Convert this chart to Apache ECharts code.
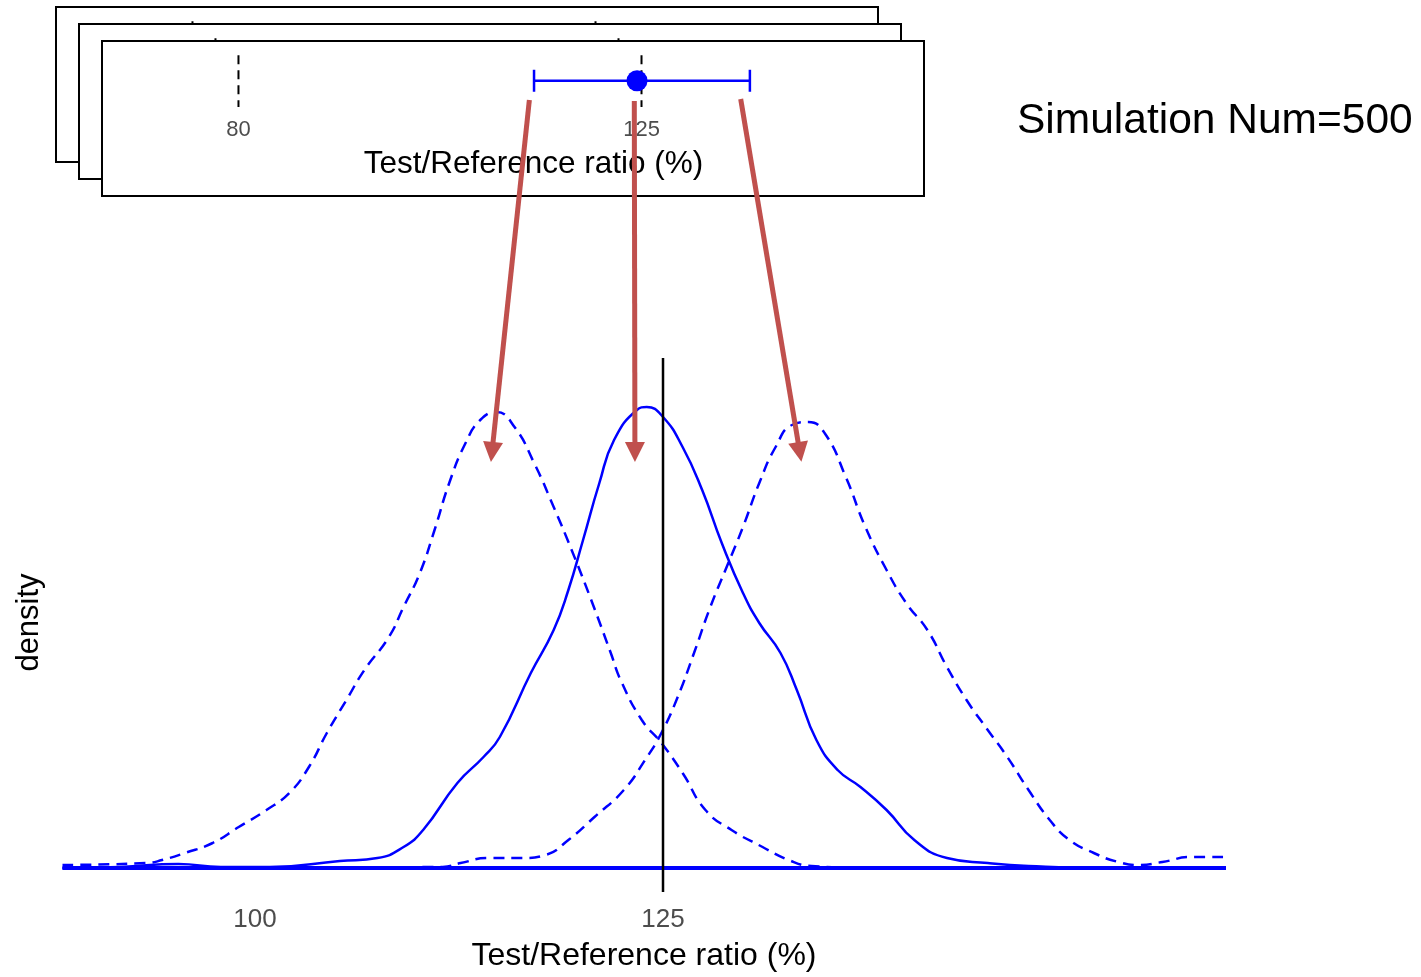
<!DOCTYPE html>
<html>
<head>
<meta charset="utf-8">
<script src="https://cdn.jsdelivr.net/npm/echarts@6/dist/echarts.min.js"></script>
<style>
  html, body { margin: 0; padding: 0; background: #fff; }
  #chart { width: 1421px; height: 977px; }
</style>
</head>
<body>
<div id="chart"></div>
<script>
// Kernel density of the simulated Test/Reference ratio (%), observed scenario
const observedRatio = [88.2, 91.7, 95.3, 97.9, 100.9, 105.2, 107.5, 109.1, 110.3, 112.4, 114.0, 115.0,
  116.9, 118.3, 119.2, 120.1, 121.1, 122.0, 123.4, 124.0, 125.0, 126.2, 127.4, 128.6, 129.9, 130.9,
  132.2, 133.2, 134.4, 135.7, 137.1, 138.7, 140.4, 142.4, 144.9, 147.4, 151.8, 159.5];
const observedDensity = [0, 0.0001, 0.0004, 0.0001, 0.0001, 0.0007, 0.0010, 0.0021, 0.0038, 0.0085, 0.0111, 0.0131,
  0.0195, 0.0238, 0.0278, 0.0328, 0.0385, 0.0428, 0.0458, 0.0461, 0.0451, 0.0421, 0.0378, 0.0325, 0.0275, 0.0245,
  0.0215, 0.0178, 0.0128, 0.0098, 0.0081, 0.0058, 0.0028, 0.0010, 0.0005, 0.0002, 0, 0];

// Density when the ratio is shifted toward the lower interval bound
const lowerRatio = [88.2, 93.4, 94.3, 95.7, 97.4, 99.0, 100.7, 102.1, 103.3, 104.4, 105.6, 106.7, 108.2, 109.1,
  110.1, 111.0, 111.9, 112.9, 113.8, 114.8, 115.9, 117.1, 118.3, 119.4, 120.6, 121.8, 122.4, 123.7, 124.9,
  126.2, 127.6, 129.2, 131.1, 132.7, 134.1, 138.0, 159.5];
const lowerDensity = [0.0003, 0.0005, 0.0008, 0.0015, 0.0025, 0.0041, 0.0058, 0.0075, 0.0101, 0.0135, 0.0168, 0.0198, 0.0231, 0.0261,
  0.0295, 0.0338, 0.0385, 0.0425, 0.0448, 0.0456, 0.0441, 0.0405, 0.0361, 0.0318, 0.0268, 0.0215, 0.0188, 0.0148, 0.0125,
  0.0095, 0.0058, 0.0038, 0.0021, 0.0008, 0.0002, 0, 0];

// Density when the ratio is shifted toward the upper interval bound
const upperRatio = [88.2, 111.5, 112.6, 114.3, 116.4, 117.8, 119.2, 120.8, 122.6, 123.9, 124.9, 125.9, 126.9, 127.9,
  128.9, 129.9, 130.9, 131.9, 132.9, 133.9, 134.9, 136.2, 137.4, 138.7, 139.9, 141.2, 142.4, 143.6, 144.9,
  146.1, 147.4, 148.7, 149.9, 151.4, 152.9, 154.2, 155.6, 157.4, 159.5];
const upperDensity = [0, 0.0001, 0.0005, 0.0010, 0.0010, 0.0013, 0.0028, 0.0051, 0.0078, 0.0108, 0.0135, 0.0171, 0.0215, 0.0261,
  0.0301, 0.0341, 0.0385, 0.0421, 0.0443, 0.0446, 0.0435, 0.0391, 0.0341, 0.0298, 0.0265, 0.0238, 0.0201, 0.0168, 0.0138,
  0.0111, 0.0078, 0.0048, 0.0028, 0.0015, 0.0006, 0.0003, 0.0006, 0.0011, 0.0011];

const criterion = 125;           // upper equivalence limit, drawn as a vertical rule
const mainTicks = [100, 125];

// One simulated 90% interval in the forest-style panel
const ciLower = 113.0;
const ciUpper = 137.1;
const pointEstimate = 124.5;
const limitTicks = [80, 125];    // equivalence limits
const simulationCount = 500;

// Arrows from the interval to the matching density (main-plot coordinates)
const arrowTails = [[116.81, 0.0768], [123.24, 0.0767], [129.76, 0.0769]];
const arrowHeads = [[114.52, 0.0416], [123.28, 0.0416], [133.38, 0.0416]];

// ---------------------------------------------------------------------
const FONT = '"Liberation Sans", Arial, Helvetica, sans-serif';
const BLUE = '#0000ff';
const ARROW = '#c0504d';
const zip = (xs, ys) => xs.map((x, i) => [x, ys[i]]);

// stacked panels, back to front
const panelOffsets = [[-46, -34], [-23, -17], [0, 0]];
const BOX = { left: 102, top: 41, width: 822, height: 155 };
const PANEL_GRID = { left: 143, top: 41, width: 781, height: 71 };
const PANEL_X = [69.34, 156.54];
const REF_SPAN = [0.8, 0.07];   // drawn top to bottom
const CI_ROW = 0.44;

const chart = echarts.init(document.getElementById('chart'), null, { renderer: 'canvas' });

const grids = [{ left: 62, width: 1164, top: 345, height: 555 }];
const xAxes = [{
  type: 'value', gridIndex: 0, min: 88.17, max: 159.5,
  axisLine: { show: false }, axisTick: { show: false }, splitLine: { show: false },
  axisLabel: { customValues: mainTicks, fontSize: 26, color: '#4d4d4d', margin: 7, fontFamily: FONT },
  name: 'Test/Reference ratio (%)', nameLocation: 'middle', nameGap: 40,
  nameTextStyle: { fontSize: 32, color: '#000', fontFamily: FONT }
}];
const yAxes = [{
  type: 'value', gridIndex: 0, min: -0.0032, max: 0.0523,
  axisLine: { show: false }, axisTick: { show: false }, splitLine: { show: false },
  axisLabel: { show: false },
  name: 'density', nameLocation: 'middle', nameRotate: 90, nameGap: 17,
  nameTextStyle: { fontSize: 31, color: '#000', fontFamily: FONT }
}];

const curveStyle = (dashed) => ({ color: BLUE, width: 2.5, type: dashed ? [11, 7] : 'solid' });
const densityLine = (name, xs, ys, dashed) => ({
  type: 'line', name, xAxisIndex: 0, yAxisIndex: 0, z: 3,
  data: zip(xs, ys), smooth: 0.5,
  showSymbol: false, lineStyle: curveStyle(dashed)
});
const series = [
  {
    type: 'line', name: 'baseline', xAxisIndex: 0, yAxisIndex: 0, z: 2,
    data: [[observedRatio[0], 0], [observedRatio[observedRatio.length - 1], 0]],
    showSymbol: false, lineStyle: { color: BLUE, width: 4 }, silent: true
  },
  densityLine('lower', lowerRatio, lowerDensity, true),
  densityLine('upper', upperRatio, upperDensity, true),
  densityLine('observed', observedRatio, observedDensity, false),
  {
    type: 'line', name: 'criterion', xAxisIndex: 0, yAxisIndex: 0, z: 4,
    data: [[criterion, -0.0024], [criterion, 0.051]],
    showSymbol: false, lineStyle: { color: '#000', width: 2.5 }
  }
];

const graphics = [];
panelOffsets.forEach(([dx, dy], i) => {
  const idx = i + 1;
  const front = i === panelOffsets.length - 1;
  const zBase = 10 * (i + 1);
  graphics.push({
    type: 'rect', z: zBase,
    shape: { x: BOX.left + dx, y: BOX.top + dy, width: BOX.width, height: BOX.height },
    style: { fill: '#fff', stroke: '#000', lineWidth: 2 }
  });
  grids.push({
    left: PANEL_GRID.left + dx, top: PANEL_GRID.top + dy,
    width: PANEL_GRID.width, height: PANEL_GRID.height
  });
  xAxes.push({
    type: 'value', gridIndex: idx, min: PANEL_X[0], max: PANEL_X[1], z: zBase + 5,
    axisLine: { show: false }, axisTick: { show: false }, splitLine: { show: false },
    axisLabel: front
      ? { customValues: limitTicks, fontSize: 22, color: '#4d4d4d', margin: 7, fontFamily: FONT }
      : { show: false },
    name: front ? 'Test/Reference ratio (%)' : '',
    nameLocation: 'middle', nameGap: 36,
    nameTextStyle: { fontSize: 31.5, color: '#000', fontFamily: FONT }
  });
  yAxes.push({
    type: 'value', gridIndex: idx, min: 0, max: 1, show: false
  });
  limitTicks.forEach((v) => {
    series.push({
      type: 'line', xAxisIndex: idx, yAxisIndex: idx, z: zBase + 1,
      data: [[v, REF_SPAN[0]], [v, REF_SPAN[1]]], showSymbol: false,
      lineStyle: { color: '#000', width: 2, type: [9, 6] }, silent: true
    });
  });
  if (front) {
    series.push({
      type: 'custom', xAxisIndex: idx, yAxisIndex: idx, z: zBase + 2,
      data: [[ciLower, ciUpper, CI_ROW]],
      encode: { x: [0, 1], y: 2 },
      renderItem: (params, api) => {
        const y = api.value(2);
        const a = api.coord([api.value(0), y]);
        const b = api.coord([api.value(1), y]);
        const cap = 11;
        const st = { stroke: BLUE, lineWidth: 2.5 };
        return {
          type: 'group', children: [
            { type: 'line', shape: { x1: a[0], y1: a[1], x2: b[0], y2: b[1] }, style: st },
            { type: 'line', shape: { x1: a[0], y1: a[1] - cap, x2: a[0], y2: a[1] + cap }, style: st },
            { type: 'line', shape: { x1: b[0], y1: b[1] - cap, x2: b[0], y2: b[1] + cap }, style: st }
          ]
        };
      }
    });
    series.push({
      type: 'scatter', xAxisIndex: idx, yAxisIndex: idx, z: zBase + 3,
      data: [[pointEstimate, CI_ROW]], symbol: 'circle', symbolSize: 21,
      itemStyle: { color: BLUE, opacity: 1 }
    });
  }
});

series.push({
  type: 'lines', coordinateSystem: 'cartesian2d', xAxisIndex: 0, yAxisIndex: 0, z: 50,
  clip: false, polyline: false,
  data: arrowTails.map((t, i) => ({ coords: [t, arrowHeads[i]] })),
  symbol: ['none', 'triangle'], symbolSize: [1, 20],
  lineStyle: { color: ARROW, width: 5, opacity: 1, curveness: 0 },
  effect: { show: false }
});

graphics.push({
  type: 'text', z: 60, x: 1017, y: 121,
  style: {
    text: 'Simulation Num=' + simulationCount,
    font: '42.5px ' + FONT, fill: '#000',
    textVerticalAlign: 'middle', verticalAlign: 'middle'
  }
});

chart.setOption({
  animation: false,
  backgroundColor: '#fff',
  grid: grids,
  xAxis: xAxes,
  yAxis: yAxes,
  series: series,
  graphic: { elements: graphics }
});
</script>
</body>
</html>
